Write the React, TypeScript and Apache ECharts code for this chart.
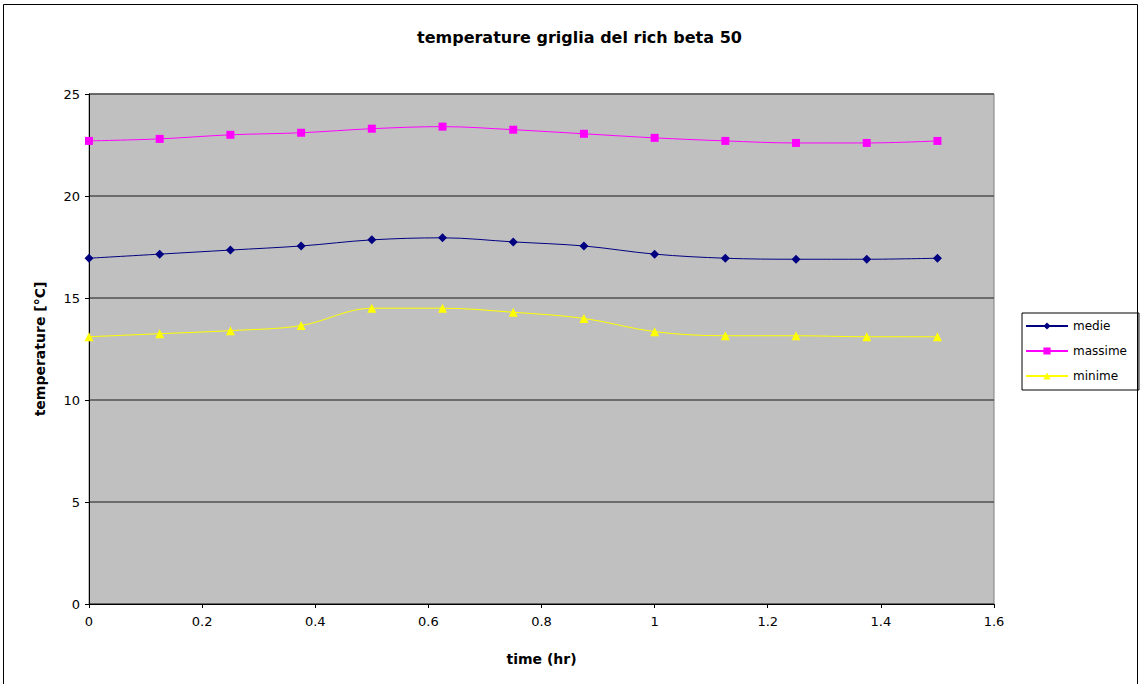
import React, { useEffect, useRef } from "react";
import * as echarts from "echarts";

const times = [0, 0.125, 0.25, 0.375, 0.5, 0.625, 0.75, 0.875, 1, 1.125, 1.25, 1.375, 1.5];
const medie = [16.95, 17.15, 17.35, 17.55, 17.85, 17.95, 17.75, 17.55, 17.15, 16.95, 16.9, 16.9, 16.95];
const massime = [22.7, 22.8, 23.0, 23.1, 23.3, 23.4, 23.25, 23.05, 22.85, 22.7, 22.6, 22.6, 22.7];
const minime = [13.1, 13.25, 13.4, 13.65, 14.5, 14.5, 14.3, 14.0, 13.35, 13.15, 13.15, 13.1, 13.1];

const seriesNames = ["medie", "massime", "minime"];
const titleText = "temperature griglia del rich beta 50";
const xName = "time (hr)";
const yName = "temperature [°C]";

const FONT = "'Liberation Sans', Arial, sans-serif";
const WIDE = "'DejaVu Sans', Verdana, sans-serif";

export default function App() {
  const ref = useRef<HTMLDivElement>(null);
  useEffect(() => {
    if (!ref.current) return;
    const chart = echarts.init(ref.current, undefined, { renderer: "svg" });
    const toPairs = (arr: number[]) => arr.map((v, i) => [times[i], v]);
    chart.setOption({
      animation: false,
      backgroundColor: "#fff",
      textStyle: { fontFamily: FONT },
      title: {
        text: titleText,
        left: 417,
        top: 29,
        padding: 0,
        textStyle: { fontSize: 16, fontWeight: "bold", color: "#000", fontFamily: WIDE },
      },
      graphic: [
        {
          type: "rect",
          shape: { x: 3.5, y: 4.5, width: 1134, height: 700 },
          style: { fill: "none", stroke: "#000", lineWidth: 1 },
          silent: true,
          z: 100,
        },
      ],
      legend: {
        orient: "vertical",
        left: 1022,
        top: 313,
        padding: [6, 12, 7, 3],
        itemWidth: 42,
        itemHeight: 9,
        itemGap: 11,
        borderColor: "#000",
        borderWidth: 1,
        borderRadius: 0,
        backgroundColor: "#fff",
        textStyle: { fontSize: 12, color: "#000", fontFamily: WIDE, lineHeight: 14 },
        data: seriesNames,
      },
      grid: {
        left: 89,
        top: 94,
        right: 147,
        bottom: 80,
        show: true,
        backgroundColor: "#C0C0C0",
        borderColor: "#808080",
        borderWidth: 1,
      },
      xAxis: {
        type: "value",
        min: 0,
        max: 1.6,
        interval: 0.2,
        name: xName,
        nameLocation: "middle",
        nameGap: 48,
        nameTextStyle: { fontSize: 14, fontWeight: "bold", color: "#000", fontFamily: WIDE },
        axisLine: { show: true, onZero: false, lineStyle: { color: "#000", width: 1 } },
        axisTick: { show: true, inside: false, length: 4, lineStyle: { color: "#000" } },
        axisLabel: { fontSize: 13, color: "#000", margin: 11, fontFamily: WIDE },
        splitLine: { show: false },
      },
      yAxis: {
        type: "value",
        min: 0,
        max: 25,
        interval: 5,
        name: yName,
        nameLocation: "middle",
        nameGap: 42,
        nameTextStyle: { fontSize: 14, fontWeight: "bold", color: "#000", fontFamily: WIDE },
        axisLine: { show: true, lineStyle: { color: "#000", width: 1 } },
        axisTick: { show: true, inside: false, length: 4, lineStyle: { color: "#000" } },
        axisLabel: { fontSize: 13, color: "#000", margin: 9, fontFamily: WIDE },
        splitLine: { show: true, lineStyle: { color: "#505050", width: 1.5 } },
      },
      series: [
        {
          name: "medie",
          type: "line",
          data: toPairs(medie),
          smooth: 0.35,
          symbol: "diamond",
          symbolSize: 9,
          itemStyle: { color: "#000080" },
          lineStyle: { color: "#000080", width: 1 },
        },
        {
          name: "massime",
          type: "line",
          data: toPairs(massime),
          smooth: 0.35,
          symbol: "rect",
          symbolSize: 8,
          itemStyle: { color: "#FF00FF" },
          lineStyle: { color: "#FF00FF", width: 1 },
        },
        {
          name: "minime",
          type: "line",
          data: toPairs(minime),
          smooth: 0.35,
          symbol: "triangle",
          symbolSize: 9,
          itemStyle: { color: "#FFFF00" },
          lineStyle: { color: "#FFFF00", width: 1 },
        },
      ],
    });
    return () => chart.dispose();
  }, []);
  return (
    <div
      ref={ref}
      style={{ position: "fixed", left: 0, top: 0, width: 1141, height: 684 }}
    />
  );
}
